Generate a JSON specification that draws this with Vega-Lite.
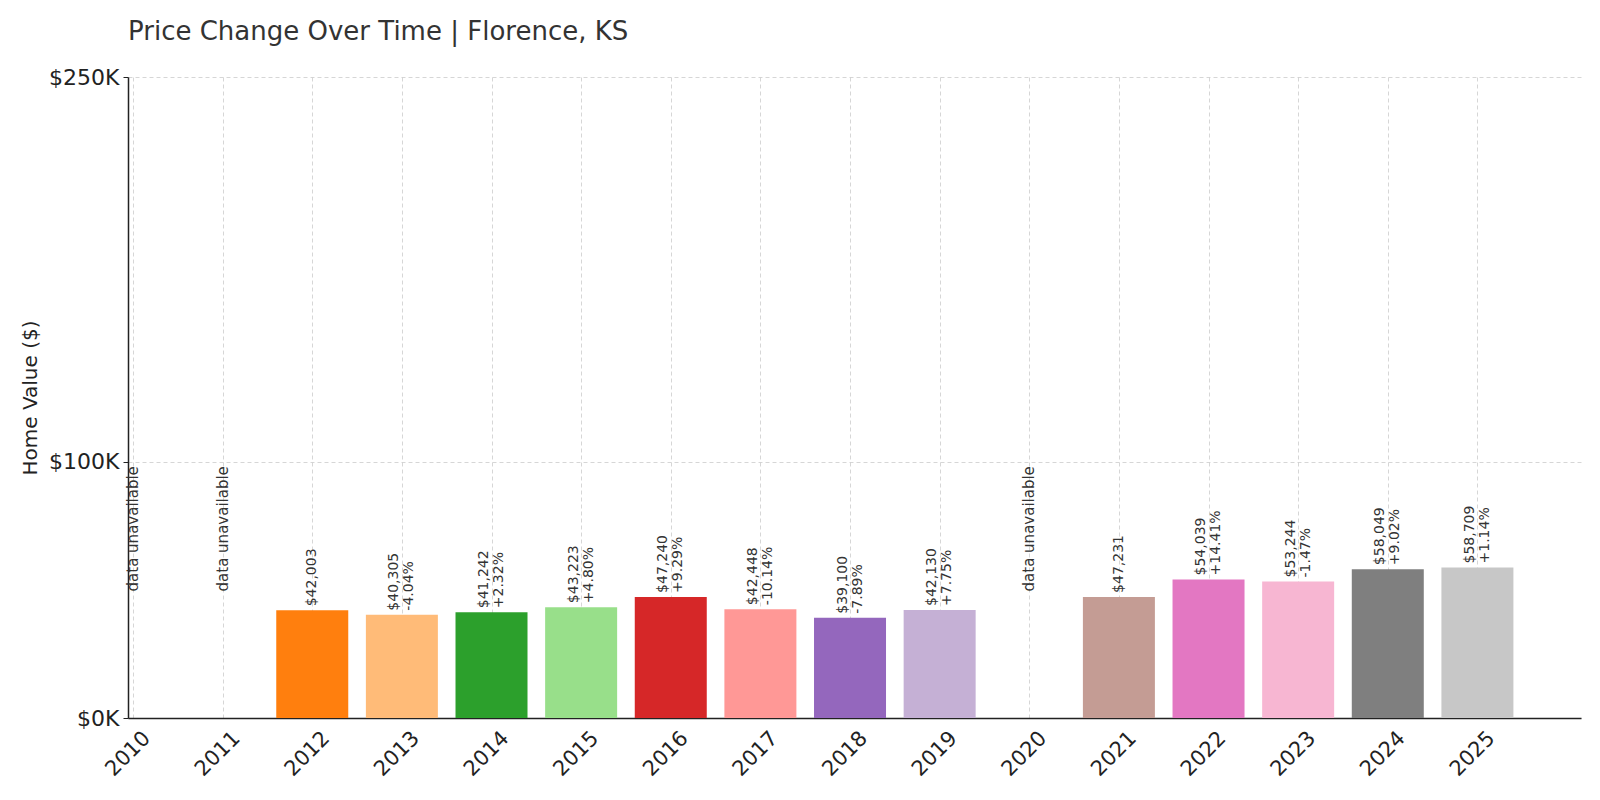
{
  "$schema": "https://vega.github.io/schema/vega-lite/v6.json",
  "width": 1453,
  "height": 641,
  "autosize": {"type": "none"},
  "padding": {"left": 128, "top": 77, "right": 19, "bottom": 82},
  "background": "white",
  "title": {
    "text": "Price Change Over Time | Florence, KS",
    "anchor": "start",
    "frame": "group",
    "font": "DejaVu Sans",
    "fontSize": 26,
    "fontWeight": "normal",
    "color": "#333333",
    "baseline": "alphabetic",
    "offset": 0
  },
  "config": {
    "locale": {
      "number": {"decimal": ".", "thousands": ",", "grouping": [3], "currency": ["$", ""], "minus": "-"}
    },
    "view": {"stroke": null},
    "font": "DejaVu Sans",
    "axis": {
      "labelFont": "DejaVu Sans",
      "titleFont": "DejaVu Sans",
      "labelColor": "#222222",
      "titleColor": "#222222",
      "domainColor": "#222222",
      "tickColor": "#222222",
      "domainWidth": 1.5,
      "tickSize": 5,
      "gridColor": "#cccccc",
      "gridDash": [4, 3],
      "gridWidth": 0.8
    }
  },
  "data": {
    "values": [
      {"year": 2010, "value": null, "change": null},
      {"year": 2011, "value": null, "change": null},
      {"year": 2012, "value": 42003, "change": null},
      {"year": 2013, "value": 40305, "change": -0.0404},
      {"year": 2014, "value": 41242, "change": 0.0232},
      {"year": 2015, "value": 43223, "change": 0.048},
      {"year": 2016, "value": 47240, "change": 0.0929},
      {"year": 2017, "value": 42448, "change": -0.1014},
      {"year": 2018, "value": 39100, "change": -0.0789},
      {"year": 2019, "value": 42130, "change": 0.0775},
      {"year": 2020, "value": null, "change": null},
      {"year": 2021, "value": 47231, "change": null},
      {"year": 2022, "value": 54039, "change": 0.1441},
      {"year": 2023, "value": 53244, "change": -0.0147},
      {"year": 2024, "value": 58049, "change": 0.0902},
      {"year": 2025, "value": 58709, "change": 0.0114}
    ]
  },
  "encoding": {
    "x": {
      "field": "year",
      "type": "quantitative",
      "scale": {"domain": [2010, 2026.1], "nice": false, "zero": false},
      "axis": {
        "title": null,
        "values": [2010, 2011, 2012, 2013, 2014, 2015, 2016, 2017, 2018, 2019, 2020, 2021, 2022, 2023, 2024, 2025],
        "format": "d",
        "ticks": false,
        "labelAngle": -45,
        "labelAlign": "right",
        "labelBaseline": "top",
        "labelOffset": 6,
        "labelPadding": 9,
        "labelFontSize": 21,
        "labelOverlap": false,
        "grid": true
      }
    }
  },
  "layer": [
    {
      "transform": [{"filter": "datum.value != null"}],
      "mark": {"type": "bar", "width": 72},
      "encoding": {
        "y": {
          "field": "value",
          "type": "quantitative",
          "scale": {"domain": [0, 250000], "nice": false},
          "axis": {
            "title": "Home Value ($)",
            "titleFontSize": 20,
            "titleFontWeight": "normal",
            "titlePadding": 8,
            "values": [0, 100000, 250000],
            "labelExpr": "'$' + format(datum.value / 1000, 'd') + 'K'",
            "labelFontSize": 22,
            "labelPadding": 4,
            "grid": true
          }
        },
        "color": {
          "field": "year",
          "type": "nominal",
          "legend": null,
          "scale": {
            "domain": [2012, 2013, 2014, 2015, 2016, 2017, 2018, 2019, 2021, 2022, 2023, 2024, 2025],
            "range": ["#ff7f0e", "#ffbb78", "#2ca02c", "#98df8a", "#d62728", "#ff9896", "#9467bd", "#c5b0d5", "#c49c94", "#e377c2", "#f7b6d2", "#7f7f7f", "#c7c7c7"]
          }
        }
      }
    },
    {
      "transform": [{"filter": "datum.value != null && datum.change == null"}],
      "mark": {"type": "text", "angle": 270, "align": "left", "baseline": "middle", "dx": 4, "fontSize": 14, "color": "#333333"},
      "encoding": {
        "y": {"field": "value", "type": "quantitative"},
        "text": {"field": "value", "type": "quantitative", "format": "$,d"}
      }
    },
    {
      "transform": [{"filter": "datum.value != null && datum.change != null"}],
      "mark": {"type": "text", "angle": 270, "align": "left", "baseline": "middle", "dx": 4, "dy": -7.5, "fontSize": 14, "color": "#333333"},
      "encoding": {
        "y": {"field": "value", "type": "quantitative"},
        "text": {"field": "value", "type": "quantitative", "format": "$,d"}
      }
    },
    {
      "transform": [{"filter": "datum.value != null && datum.change != null"}],
      "mark": {"type": "text", "angle": 270, "align": "left", "baseline": "middle", "dx": 4, "dy": 7.5, "fontSize": 14, "color": "#333333"},
      "encoding": {
        "y": {"field": "value", "type": "quantitative"},
        "text": {"field": "change", "type": "quantitative", "format": "+.2%"}
      }
    },
    {
      "transform": [{"filter": "datum.value == null"}],
      "mark": {"type": "text", "angle": 270, "align": "left", "baseline": "middle", "dx": 4, "fontSize": 15, "color": "#333333", "text": "data unavailable"},
      "encoding": {
        "y": {"datum": 47800, "type": "quantitative"}
      }
    }
  ]
}
